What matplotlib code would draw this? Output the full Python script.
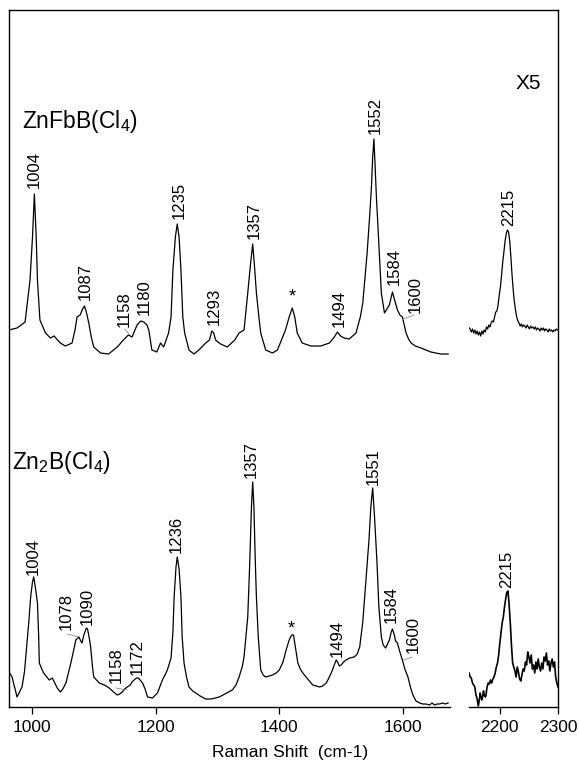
import matplotlib
matplotlib.use("Agg")
import matplotlib.pyplot as plt
from matplotlib.lines import Line2D

plt.rcParams['font.family'] = ['Liberation Sans', 'DejaVu Sans']
plt.rcParams['mathtext.fontset'] = 'custom'
plt.rcParams['mathtext.rm'] = 'Liberation Sans'
plt.rcParams['mathtext.default'] = 'regular'

# ---------------- data (Raman shift in cm-1, intensity in arbitrary units) -------------
top_offset = 345

top_x = [963, 976, 989, 997, 1001, 1004, 1007, 1009, 1013, 1022, 1030, 1036, 1040, 1046, 1054,
         1065, 1070, 1073, 1078, 1082, 1085, 1088, 1092, 1096, 1100, 1111, 1124, 1138, 1148,
         1156, 1162, 1170, 1176, 1181, 1186, 1189, 1192, 1194, 1202, 1208, 1213, 1221, 1225,
         1228, 1232, 1235, 1238, 1241, 1244, 1247, 1254, 1262, 1270, 1281, 1287, 1291, 1294,
         1297, 1305, 1316, 1328, 1335, 1343, 1349, 1353, 1357, 1360, 1363, 1367, 1370, 1378,
         1389, 1397, 1410, 1416, 1421, 1425, 1429, 1437, 1451, 1467, 1481, 1489, 1494, 1499,
         1505, 1513, 1524, 1531, 1535, 1542, 1546, 1549, 1551, 1553, 1555, 1557, 1559, 1562,
         1565, 1570, 1574, 1578, 1581, 1583, 1586, 1591, 1595, 1599, 1602, 1605, 1609, 1613,
         1620, 1629, 1637, 1645, 1661, 1673]
top_y = [32, 34, 40, 82, 125, 168, 125, 82, 42, 29, 24, 26, 23, 19, 16,
         19, 33, 45, 47, 53, 56, 50, 39, 25, 15, 9, 8, 15, 22,
         27, 25, 37, 41, 40, 37, 32, 20, 12, 10, 19, 15, 29, 45,
         92, 125, 138, 125, 92, 45, 29, 12, 8, 12, 19, 22, 31, 29,
         22, 18, 15, 22, 29, 32, 69, 95, 118, 95, 69, 45, 29, 12,
         9, 12, 32, 45, 54, 45, 29, 19, 16, 16, 19, 25, 30, 26,
         24, 23, 29, 45, 59, 109, 145, 175, 205, 223, 195, 165, 142, 105,
         69, 49, 53, 57, 65, 70, 63, 52, 47, 45, 37, 29, 23, 19,
         16, 14, 12, 10, 8, 8]

top_r_x = [2148, 2151, 2153, 2155, 2157, 2159, 2161, 2163, 2165, 2167, 2169, 2171, 2173, 2175,
           2177, 2179, 2181, 2183, 2185, 2187, 2189, 2191, 2193, 2195, 2197, 2199, 2201, 2203,
           2205, 2207, 2209, 2211, 2213, 2215, 2217, 2219, 2221, 2223, 2225, 2227, 2229, 2231,
           2233, 2235, 2237, 2239, 2241, 2243, 2245, 2247, 2249, 2251, 2253, 2255, 2257, 2259,
           2261, 2263, 2265, 2267, 2269, 2271, 2273, 2275, 2277, 2279, 2281, 2283, 2285, 2287,
           2289, 2291, 2293, 2295, 2297, 2299]
top_r_y = [34, 30, 33, 29, 32, 28, 31, 27, 30, 26, 31, 28, 32, 30,
           35, 33, 37, 35, 39, 41, 40, 45, 50, 51, 57, 67, 75, 87,
           100, 110, 121, 128, 132, 130, 121, 105, 87, 72, 60, 52, 45, 41,
           39, 36, 38, 35, 37, 36, 34, 37, 35, 33, 36, 34, 35, 33,
           35, 32, 34, 33, 31, 34, 32, 34, 31, 33, 32, 30, 33, 31,
           32, 30, 32, 31, 33, 32]

bot_x = [963, 968, 976, 984, 988, 992, 995, 998, 1001, 1003, 1006, 1009, 1011, 1012, 1016, 1019,
         1028, 1033, 1037, 1041, 1046, 1050, 1055, 1063, 1068, 1071, 1076, 1079, 1081, 1084,
         1088, 1090, 1093, 1095, 1098, 1100, 1109, 1117, 1125, 1132, 1138, 1142, 1146, 1150,
         1154, 1159, 1162, 1165, 1169, 1172, 1175, 1179, 1183, 1187, 1195, 1203, 1208, 1211,
         1216, 1219, 1223, 1225, 1228, 1230, 1233, 1235, 1238, 1241, 1243, 1246, 1250, 1254,
         1260, 1265, 1272, 1281, 1290, 1303, 1315, 1324, 1330, 1335, 1340, 1343, 1346, 1349,
         1352, 1355, 1357, 1359, 1361, 1363, 1366, 1370, 1374, 1378, 1384, 1389, 1395, 1400,
         1406, 1411, 1416, 1420, 1423, 1426, 1430, 1434, 1438, 1446, 1454, 1460, 1465, 1470,
         1476, 1481, 1486, 1490, 1492, 1495, 1497, 1500, 1504, 1508, 1514, 1521, 1526, 1530,
         1535, 1538, 1541, 1545, 1548, 1551, 1554, 1558, 1561, 1565, 1568, 1572, 1575, 1578,
         1581, 1583, 1586, 1588, 1591, 1595, 1599, 1603, 1608, 1612, 1616, 1621, 1627, 1632,
         1637, 1643, 1647, 1651, 1655, 1659, 1664, 1668, 1673]
bot_y = [35, 30, 10, 20, 35, 64, 85, 110, 125, 130, 118, 104, 70, 44, 38, 34,
         27, 29, 24, 19, 15, 18, 24, 44, 58, 67, 70, 66, 64, 72,
         79, 78, 68, 60, 40, 30, 24, 22, 19, 15, 12, 13, 15, 18,
         20, 22, 25, 27, 29, 29, 27, 24, 18, 10, 9, 14, 22, 27,
         33, 37, 45, 49, 75, 110, 140, 150, 138, 110, 70, 44, 30, 20,
         16, 14, 11, 8, 8, 10, 14, 17, 22, 30, 40, 50, 70, 90,
         140, 200, 225, 200, 150, 110, 70, 37, 32, 30, 31, 32, 34, 37,
         45, 57, 67, 72, 72, 60, 44, 38, 34, 28, 22, 21, 20, 21,
         24, 30, 37, 44, 47, 44, 41, 42, 45, 47, 49, 50, 53, 60,
         85, 110, 135, 167, 200, 219, 190, 144, 100, 70, 62, 59, 63, 67,
         75, 78, 72, 66, 64, 55, 47, 38, 30, 20, 12, 6, 4, 3,
         3, 2, 4, 2, 3, 3, 4, 3, 4]

bot_r_x = [2147, 2149, 2151, 2153, 2155, 2157, 2159, 2161, 2163, 2165, 2166, 2167, 2169, 2170,
           2172, 2173, 2175, 2176, 2178, 2180, 2182, 2184, 2186, 2188, 2190, 2192, 2194, 2196,
           2198, 2200, 2202, 2204, 2206, 2208, 2210, 2212, 2213, 2214, 2216, 2218, 2220, 2222,
           2224, 2226, 2228, 2230, 2232, 2234, 2236, 2238, 2240, 2242, 2244, 2246, 2248, 2250,
           2252, 2254, 2256, 2258, 2260, 2262, 2264, 2266, 2268, 2270, 2272, 2274, 2276, 2278,
           2280, 2282, 2284, 2286, 2288, 2290, 2292, 2294, 2296, 2298, 2300]
bot_r_y = [34, 30, 29, 24, 22, 20, 12, 8, 1, 8, 14, 12, 7, 9,
           16, 12, 10, 11, 20, 24, 23, 27, 24, 28, 30, 34, 40, 44,
           52, 64, 74, 84, 90, 100, 108, 115, 113, 116, 102, 84, 62, 44,
           40, 36, 30, 40, 35, 28, 26, 32, 38, 36, 45, 42, 55, 50,
           44, 52, 38, 42, 34, 45, 38, 48, 40, 36, 44, 38, 50, 46,
           54, 42, 46, 36, 44, 48, 40, 45, 30, 24, 20]

# peak labels: (text, x, y of label start)
top_labels = [("1004", 1004, 519), ("1087", 1086, 407), ("1158", 1149, 380), ("1180", 1181, 392),
              ("1235", 1238, 488), ("1293", 1295, 382), ("1357", 1359, 468), ("1494", 1497, 380),
              ("1552", 1555, 573), ("1584", 1586, 422), ("1600", 1620, 394)]
top_r_labels = [("2215", 2215, 481)]
bot_labels = [("1004", 1003, 132), ("1078", 1055, 77), ("1090", 1089, 82), ("1158", 1136, 24),
              ("1172", 1170, 32), ("1236", 1233, 154), ("1357", 1355, 229), ("1494", 1494, 50),
              ("1551", 1552, 222), ("1584", 1581, 84), ("1600", 1617, 54)]
bot_r_labels = [("2215", 2212, 119)]
star_pos = [(1421, 410), (1419, 78)]
leaders = [((1150, 1157), (378, 373)), ((1600, 1618), (388, 392)),
           ((1058, 1076), (73, 70)), ((1136, 1154), (19, 17)), ((1601, 1615), (47, 50))]

x_ticks_left = [1000, 1200, 1400, 1600]
x_ticks_right = [2200, 2300]

# ---------------- layout ----------------
W, H = 579, 767
fig = plt.figure(figsize=(W / 100, H / 100), dpi=100)


def fx(p):
    return p / W


def fy(p):
    return 1 - p / H


ax1 = fig.add_axes([fx(9), fy(707), fx(450) - fx(9), fy(10) - fy(707)])
ax2 = fig.add_axes([fx(469), fy(707), fx(558) - fx(469), fy(10) - fy(707)])

lw = 0.9
ax1.plot(top_x, [v + top_offset for v in top_y], color='black', lw=lw)
ax1.plot(bot_x, bot_y, color='black', lw=lw)
ax2.plot(top_r_x, [v + top_offset for v in top_r_y], color='black', lw=lw)
ax2.plot(bot_r_x, bot_r_y, color='black', lw=1.2)

ax1.set_xlim(963, 1676)
ax2.set_xlim(2147, 2300)
for ax in (ax1, ax2):
    ax.set_ylim(0, 697)
    ax.set_yticks([])
    ax.spines['top'].set_visible(False)
    ax.tick_params(axis='x', direction='out', length=5, width=0.9, pad=4, labelsize=12.5)
    for s in ax.spines.values():
        s.set_linewidth(1.0)
ax1.spines['right'].set_visible(False)
ax2.spines['left'].set_visible(False)
ax1.set_xticks(x_ticks_left)
ax2.set_xticks(x_ticks_right)

fig.add_artist(Line2D([fx(9), fx(558)], [fy(10), fy(10)], transform=fig.transFigure,
                      color='black', lw=1.0))

fs = 12
for ax, labs in ((ax1, top_labels), (ax1, bot_labels), (ax2, top_r_labels), (ax2, bot_r_labels)):
    for t, x, y in labs:
        ax.text(x, y, t, rotation=90, ha='center', va='bottom', fontsize=fs)
for x, y in star_pos:
    ax1.text(x, y, '*', ha='center', va='center', fontsize=13)
for xs, ys in leaders:
    ax1.plot(xs, ys, color='#777777', lw=0.5)

fig.text(fx(22), fy(128), 'ZnFbB(Cl$_4$)', fontsize=16.5, ha='left', va='baseline')
fig.text(fx(12), fy(469), 'Zn$_2$B(Cl$_4$)', fontsize=16.5, ha='left', va='baseline')
fig.text(fx(516), fy(89), 'X5', fontsize=15, ha='left', va='baseline')
fig.text(fx(290), fy(757), 'Raman Shift  (cm-1)', fontsize=12.5, ha='center', va='baseline')

fig.savefig('out.png', dpi=100)
